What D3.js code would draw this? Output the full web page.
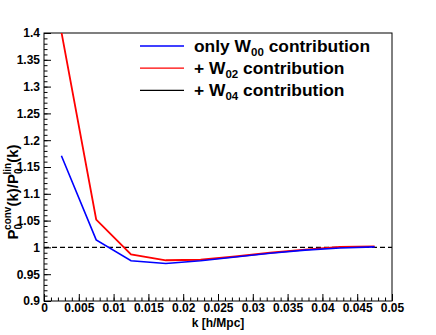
<!DOCTYPE html>
<html>
<head>
<meta charset="utf-8">
<script src="https://cdn.jsdelivr.net/npm/d3@7"></script>
<style>
  body { margin: 0; background: #fff; }
  text { font-family: "Liberation Sans", Arial, sans-serif; font-weight: bold; }
</style>
</head>
<body>
<script>
// k bin centres [h/Mpc]
const kValues = [0.0025, 0.0075, 0.0125, 0.0175, 0.0225, 0.0275, 0.0325, 0.0375, 0.0425, 0.0475];
// P0conv / P0lin ratios
const onlyW00 = [1.171, 1.014, 0.975, 0.970, 0.975, 0.982, 0.989, 0.995, 0.999, 1.001];
const plusW02 = [1.402, 1.052, 0.987, 0.976, 0.977, 0.983, 0.990, 0.996, 1.001, 1.002];
const refLine = [1];

const xTicks = [0, 0.005, 0.01, 0.015, 0.02, 0.025, 0.03, 0.035, 0.04, 0.045, 0.05];
const xTickLabels = ["0", "0.005", "0.01", "0.015", "0.02", "0.025", "0.03", "0.035", "0.04", "0.045", "0.05"];
const yTicks = [0.9, 0.95, 1, 1.05, 1.1, 1.15, 1.2, 1.25, 1.3, 1.35, 1.4];
const yTickLabels = ["0.9", "0.95", "1", "1.05", "1.1", "1.15", "1.2", "1.25", "1.3", "1.35", "1.4"];

const legendItems = [
  { pre: "only W", sub: "00", post: " contribution", color: "#0000ff" },
  { pre: "+ W", sub: "02", post: " contribution", color: "#ff0000" },
  { pre: "+ W", sub: "04", post: " contribution", color: "#000000" }
];

const margin = { top: 33, right: 44, bottom: 34, left: 44 };
const width = 436 - margin.left - margin.right;
const height = 335 - margin.top - margin.bottom;

const svg = d3.select("body")
  .append("svg")
  .attr("width", 436)
  .attr("height", 335);

const g = svg.append("g")
  .attr("transform", `translate(${margin.left},${margin.top})`);

const x = d3.scaleLinear().domain([0, 0.05]).range([0, width]);
const y = d3.scaleLinear().domain([0.9, 1.4]).range([height, 0]);

g.append("clipPath").attr("id", "clip")
  .append("rect").attr("width", width).attr("height", height);

// minor ticks
const xMinor = d3.range(0, 0.0505, 0.001);
const yMinor = d3.range(0.9, 1.4005, 0.01);

g.append("g")
  .attr("transform", `translate(0,${height})`)
  .call(d3.axisBottom(x).tickValues(xMinor).tickSize(-3.5).tickFormat(""))
  .call(a => a.select(".domain").remove());
g.append("g")
  .call(d3.axisLeft(y).tickValues(yMinor).tickSize(-3.5).tickFormat(""))
  .call(a => a.select(".domain").remove());

// major ticks + labels
g.append("g")
  .attr("transform", `translate(0,${height})`)
  .call(d3.axisBottom(x).tickValues(xTicks).tickSize(-7).tickPadding(2)
    .tickFormat((d, i) => xTickLabels[i]))
  .call(a => a.select(".domain").remove())
  .selectAll("text").attr("font-size", 12).attr("fill", "#000");
g.append("g")
  .call(d3.axisLeft(y).tickValues(yTicks).tickSize(-7).tickPadding(4)
    .tickFormat((d, i) => yTickLabels[i]))
  .call(a => a.select(".domain").remove())
  .selectAll("text").attr("font-size", 12).attr("fill", "#000");

// frame
g.append("rect")
  .attr("width", width).attr("height", height)
  .attr("fill", "none").attr("stroke", "#000").attr("stroke-width", 1);

// reference line at 1
g.selectAll(".ref").data(refLine).enter().append("line")
  .attr("x1", 0).attr("x2", width)
  .attr("y1", d => y(d)).attr("y2", d => y(d))
  .attr("stroke", "#000").attr("stroke-width", 1.3)
  .attr("stroke-dasharray", "5,3");

const line = d3.line()
  .x((d, i) => x(kValues[i]))
  .y(d => y(d));

g.append("path").datum(plusW02)
  .attr("clip-path", "url(#clip)")
  .attr("fill", "none").attr("stroke", "#ff0000").attr("stroke-width", 1.8)
  .attr("d", line);
g.append("path").datum(onlyW00)
  .attr("clip-path", "url(#clip)")
  .attr("fill", "none").attr("stroke", "#0000ff").attr("stroke-width", 1.6)
  .attr("d", line);

// legend
const leg = svg.append("g");
legendItems.forEach((d, i) => {
  const ly = 46 + i * 22.2;
  leg.append("line")
    .attr("x1", 140).attr("x2", 184)
    .attr("y1", ly).attr("y2", ly)
    .attr("stroke", d.color).attr("stroke-width", 1.3);
  const t = leg.append("text")
    .attr("x", 194).attr("y", ly + 6)
    .attr("font-size", 17.4).attr("fill", "#000");
  t.append("tspan").text(d.pre);
  t.append("tspan").attr("font-size", 11.5).attr("dy", 4).text(d.sub);
  t.append("tspan").attr("dy", -4).text(d.post);
});

// axis titles
svg.append("text")
  .attr("x", margin.left + width / 2).attr("y", 327)
  .attr("text-anchor", "middle").attr("font-size", 12)
  .text("k [h/Mpc]");

const yt = svg.append("text")
  .attr("transform", `translate(18,${margin.top + height / 2 + 25}) rotate(-90)`)
  .attr("text-anchor", "middle").attr("font-size", 15);
yt.append("tspan").text("P");
yt.append("tspan").attr("font-size", 10).attr("dy", 3.5).text("0");
yt.append("tspan").attr("font-size", 10).attr("dx", -6).attr("dy", -10.5).text("conv");
yt.append("tspan").attr("dy", 7).text("(k)/P");
yt.append("tspan").attr("font-size", 10).attr("dy", 3.5).text("0");
yt.append("tspan").attr("font-size", 10).attr("dx", -6).attr("dy", -10.5).text("lin");
yt.append("tspan").attr("dy", 7).text("(k)");
</script>
</body>
</html>
